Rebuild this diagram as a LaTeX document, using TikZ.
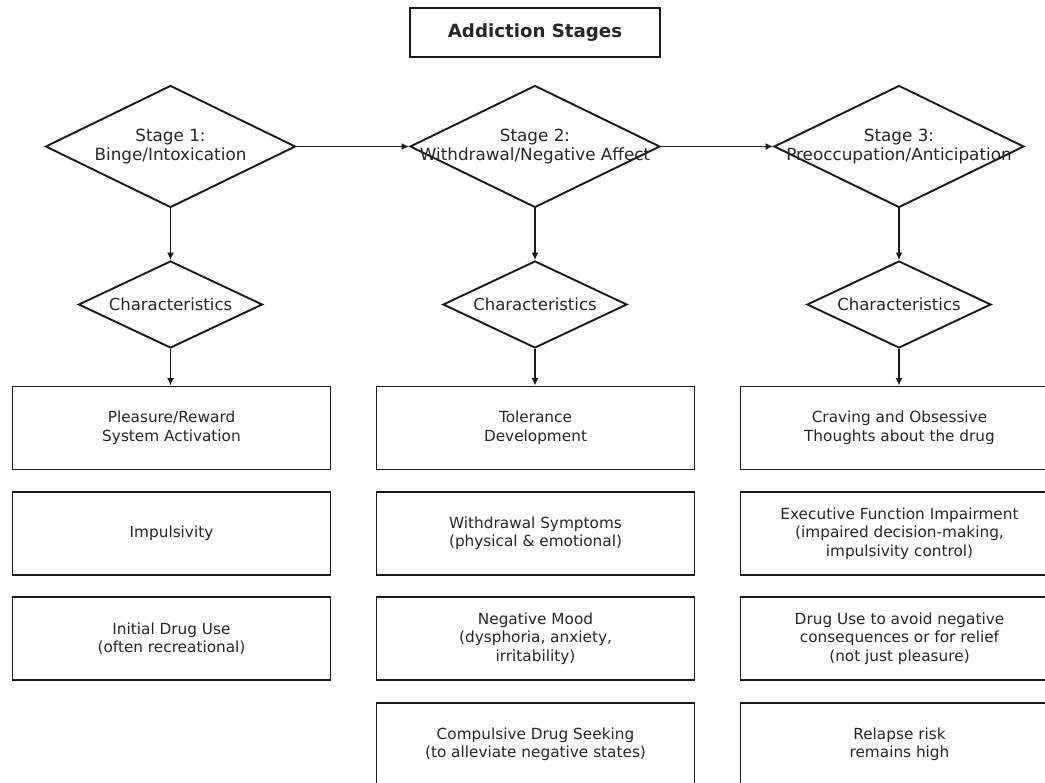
\documentclass[tikz,border=0pt]{standalone}
\usepackage{fontspec}
\setmainfont{DejaVu Sans}
\usetikzlibrary{shapes.geometric,arrows.meta}
\tikzset{
  x=1pt, y=-1pt,
  every node/.style={text=black!85},
  stagediamond/.style={draw=black!90, line width=1.9pt, shape=diamond, inner sep=0pt,
    minimum width=250pt, minimum height=122pt},
  chardiamond/.style={draw=black!90, line width=1.9pt, shape=diamond, inner sep=0pt,
    minimum width=184pt, minimum height=87pt},
  charlabel/.style={font=\fontsize{16.5}{19}\selectfont, text=black!85},
  infobox/.style={draw=black!90, line width=1.9pt, rectangle, inner sep=0pt,
    minimum width=318pt, minimum height=83pt, align=center,
    font=\fontsize{15.3}{18.5}\selectfont},
  titlebox/.style={draw=black!90, line width=1.9pt, rectangle, inner sep=0pt,
    minimum width=250pt, minimum height=49pt, font=\bfseries\fontsize{18.2}{21}\selectfont},
  stagelabel/.style={align=center, font=\fontsize{16.8}{19.5}\selectfont, text=black!85},
  flow/.style={draw=black!90, line width=1.9pt, -{Latex[length=7.5pt,width=7pt]}}
}
\begin{document}
\begin{tikzpicture}
\clip (0,0) rectangle (1045,783);
\fill[white] (0,0) rectangle (1045,783);

\node[titlebox] (title) at (535,32.8) {\raisebox{-1.5pt}{Addiction Stages}};

\node[stagediamond, label={[stagelabel]center:Stage 1:\\Binge/Intoxication}] (s1) at (170.5,146.5) {};
\node[stagediamond, label={[stagelabel]center:Stage 2:\\Withdrawal/Negative Affect}] (s2) at (535,146.5) {};
\node[stagediamond, label={[stagelabel]center:Stage 3:\\Preoccupation/Anticipation}] (s3) at (899,146.5) {};

\node[chardiamond, label={[charlabel]center:Characteristics}] (c1) at (170.5,304.5) {};
\node[chardiamond, label={[charlabel]center:Characteristics}] (c2) at (535,304.5) {};
\node[chardiamond, label={[charlabel]center:Characteristics}] (c3) at (899,304.5) {};

% column 1
\node[infobox] (a1) at (171.5,428) {Pleasure/Reward\\System Activation};
\node[infobox] (a2) at (171.5,533.5) {Impulsivity};
\node[infobox] (a3) at (171.5,638.5) {Initial Drug Use\\(often recreational)};

% column 2
\node[infobox] (b1) at (535.5,428) {Tolerance\\Development};
\node[infobox] (b2) at (535.5,533.5) {Withdrawal Symptoms\\(physical \& emotional)};
\node[infobox] (b3) at (535.5,638.5) {Negative Mood\\(dysphoria, anxiety,\\irritability)};
\node[infobox] (b4) at (535.5,744.5) {Compulsive Drug Seeking\\(to alleviate negative states)};

% column 3
\node[infobox] (d1) at (899.5,428) {Craving and Obsessive\\Thoughts about the drug};
\node[infobox] (d2) at (899.5,533.5) {Executive Function Impairment\\(impaired decision-making,\\impulsivity control)};
\node[infobox] (d3) at (899.5,638.5) {Drug Use to avoid negative\\consequences or for relief\\(not just pleasure)};
\node[infobox] (d4) at (899.5,744.5) {Relapse risk\\remains high};

\draw[flow] (s1) -- (s2);
\draw[flow] (s2) -- (s3);
\draw[flow] (s1) -- (c1);
\draw[flow] (s2) -- (c2);
\draw[flow] (s3) -- (c3);
\draw[flow] (c1.south) -- (c1.south |- a1.north);
\draw[flow] (c2.south) -- (c2.south |- b1.north);
\draw[flow] (c3.south) -- (c3.south |- d1.north);
\end{tikzpicture}
\end{document}
